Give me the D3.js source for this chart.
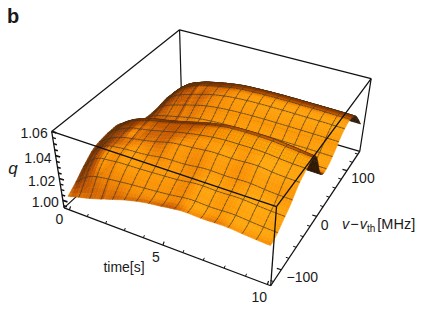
<!DOCTYPE html>
<html><head><meta charset="utf-8">
<script src="https://cdn.jsdelivr.net/npm/d3@7"></script>
<style>html,body{margin:0;padding:0;background:#fff}svg{display:block}text{font-family:"Liberation Sans",Arial,sans-serif;fill:#1a1a1a}</style>
</head><body><div id="chart"></div>
<script>
// ---- data: q - 1 in units of 1e-3, one row per time, one entry per v node ----
const tGrid=[0,0.5,1,1.5,2,3,4,5,6,7,8,9,10];
const vGrid=d3.range(33).map(j=>-126+8.5*j);
const q_t00=[5.3,8,11,14.5,18,21,24,26,27,27.5,28,28,28,27,24,20,17,15,14,13,12,11.5,11.5,11.5,12,12.5,13,12.5,12,10.5,9,7,5];
const q_t05=[7.6,12,17.5,22.5,26.5,29.5,31,31.5,32,33,33.5,33.5,33.5,32,28,23.5,20,17.5,16,15.5,16,17,18.5,19.5,20.3,20.8,21,20.4,19.5,17.8,15.5,12.8,10];
const q_t10=[9.7,15.5,22,27.5,31,33.5,35,35.5,36,37,37.5,38,38,36.5,31,26,22,19,17.5,17.5,18.5,20.3,22.5,24.3,25.8,27,27.5,26.8,25.5,23.3,20,16.3,13];
const q_t15=[12.2,18,23.8,28.5,32,34.5,36.5,37.5,38.5,40,40.5,41,41,39.5,34,28,23,20,19,19.3,20.5,22.5,25,27.2,29,30.5,31.2,30.5,29,26.5,22.8,18.5,14.6];
const q_t20=[15.1,20,25,29.5,33,35.5,37.5,39,40,41,42,43,43.5,42,36,29.5,24,21,20.5,21,22.5,24.8,27.5,30,31.7,33.5,34.5,33.5,32,29,25,20.3,16];
const q_t30=[20.5,23.5,26.8,30.5,33.5,36,38.5,41,43,44.5,45.5,46.5,47,45,39,31,25,22.5,22.6,23.6,25.8,28.4,31.6,34.3,36,37.3,38,37,35.4,32.2,27.6,22.4,17.5];
const q_t40=[24.8,26,28.2,31.5,34.3,37,40.8,44.3,47,48.5,49.5,50.5,51,49,42,32.6,25.8,23.2,23.6,25,27.5,30.4,33.8,36.8,38.7,40.2,40.8,39.8,38,34.5,29.5,24,18.7];
const q_t50=[27.3,27.8,29.8,32.8,35.3,37.8,41.3,45.3,48.5,51,52.5,54.5,55,53,45,33.3,26.3,23.7,24.2,25.8,28.3,31.3,34.8,37.9,39.9,41.4,41.9,40.9,38.9,35.4,30.3,24.7,19.2];
const q_t60=[29.5,30,31.9,34.9,37.3,39.7,43.1,46.9,50.1,52,54.5,56.5,57.5,55.5,46.5,33.7,26.5,24,24.5,26,28.6,31.6,35.2,38.3,40.3,41.8,42.3,41.3,39.3,35.7,30.6,25,19.4];
const q_t70=[29.1,29.5,31.4,34.4,36.9,39.3,42.7,46.6,49.8,52,54.8,57,58,56,47,33.7,26.5,24,24.5,26,28.6,31.6,35.2,38.3,40.3,41.8,42.3,41.3,39.3,35.7,30.6,25,19.4];
const q_t80=[29.5,30,31.9,34.9,37.3,39.8,43.3,47.3,50.6,52.4,54.6,56.8,57.6,55.6,46.5,33.5,26.4,23.9,24.4,25.9,28.4,31.5,35,38.1,40.1,41.6,42.1,41.1,39.1,35.5,30.5,24.9,19.3];
const q_t90=[28.1,28.6,30.5,33.5,35.9,38.3,41.7,45.7,48.8,50.6,53,55.3,56,54,45.5,33.3,26.3,23.7,24.2,25.8,28.3,31.3,34.8,37.9,39.9,41.4,41.9,40.9,38.9,35.4,30.3,24.7,19.2];
const q_t100=[27,27.5,29.5,32.5,35,37.5,41,45,48,50,52,54,54.5,52,44,33,26,23.5,24,25.5,28,31,34.5,37.5,39.5,41,41.5,40.5,38.5,35,30,24.5,19];
const qRows=[q_t00,q_t05,q_t10,q_t15,q_t20,q_t30,q_t40,q_t50,q_t60,q_t70,q_t80,q_t90,q_t100];
const tMajor=[0,5,10], tMinor=[1,2,3,4,6,7,8,9];
const vMajor=[-100,0,100], vMinor=[-120,-80,-60,-40,-20,20,40,60,80,120,140];
const qMajor=[1.00,1.02,1.04,1.06], qMinor=[0.995,1.005,1.01,1.015,1.025,1.03,1.035,1.045,1.05,1.055];

const W=426,H=316;
const svg=d3.select('#chart').append('svg').attr('width',W).attr('height',H);

// ---- box in normalised coordinates, and the camera fitted to its corners ----
const tX=d3.scaleLinear().domain([-0.3,10.15]).range([0,1]);
const vY=d3.scaleLinear().domain([-127,147]).range([0,1]);
const qZ=d3.scaleLinear().domain([0.993,1.06]).range([0,1]);
const corners=[[0,0,0,63,208],[1,0,0,271,285],[1,1,0,360,150],[0,1,0,182,101],
               [0,0,1,53,130],[1,0,1,276,209],[1,1,1,371,79],[0,1,1,179,29]];
function fitCamera(pts){
  const A=[],b=[];
  pts.forEach(([x,y,z,X,Y])=>{
    A.push([x,y,z,1,0,0,0,0,-X*x,-X*y,-X*z]);b.push(X);
    A.push([0,0,0,0,x,y,z,1,-Y*x,-Y*y,-Y*z]);b.push(Y);
  });
  const n=11,M=d3.range(n).map(i=>d3.range(n+1).map(j=>
    j<n?d3.sum(A,r=>r[i]*r[j]):d3.sum(A,(r,k)=>r[i]*b[k])));
  for(let c=0;c<n;c++){
    let p=c;for(let r=c+1;r<n;r++)if(Math.abs(M[r][c])>Math.abs(M[p][c]))p=r;
    [M[c],M[p]]=[M[p],M[c]];
    for(let r=0;r<n;r++)if(r!==c){const f=M[r][c]/M[c][c];for(let k=c;k<=n;k++)M[r][k]-=f*M[c][k];}
  }
  return M.map((r,i)=>r[n]/r[i]);
}
const C=fitCamera(corners);
function proj(x,y,z){
  const w=C[8]*x+C[9]*y+C[10]*z+1;
  return [(C[0]*x+C[1]*y+C[2]*z+C[3])/w,(C[4]*x+C[5]*y+C[6]*z+C[7])/w];
}
const P=(t,v,q)=>proj(tX(t),vY(v),qZ(q));
const line=d3.line();

// ---- surface lookup ----
const tIdx=d3.scaleLinear().domain(tGrid).range(d3.range(tGrid.length)).clamp(true);
const vIdx=d3.scaleLinear().domain([vGrid[0],vGrid[32]]).range([0,32]).clamp(true);
const cr=(a,b,c,d,x)=>b+0.5*x*(c-a+x*(2*a-5*b+4*c-d+x*(3*(b-c)+d-a)));
function qAt(t,v){
  const ti=tIdx(t),vj=vIdx(v);
  const i=Math.min(Math.floor(ti),tGrid.length-2),j=Math.min(Math.floor(vj),31),fi=ti-i,fj=vj-j;
  const rowVal=r=>{const R=qRows[Math.max(0,Math.min(tGrid.length-1,r))];
    return cr(R[Math.max(0,j-1)],R[j],R[j+1],R[Math.min(32,j+2)],fj);};
  return 1+cr(rowVal(i-1),rowVal(i),rowVal(i+1),rowVal(i+2),fi)/1000;
}

// ---- shading ----
const boxZ=0.75;
const L=(()=>{const l=[0.42,-0.52,0.74],m=Math.hypot(...l);return l.map(d=>d/m);})();
const ramp=d3.scaleLinear().domain([0.2,0.5,0.64,0.74,0.84,0.95])
  .range(['#6a3000','#a84600','#cc5f00','#ea7d02','#fb9404','#ffa60c']).clamp(true);
const under=d3.scaleLinear().domain([0,1]).range(['#2e1a08','#70401a']).clamp(true);
function shade(t,v){
  const dt=0.05,dv=1.5;
  const dzdx=(qZ(qAt(t+dt,v))-qZ(qAt(t-dt,v)))*boxZ/(tX(t+dt)-tX(t-dt));
  const dzdy=(qZ(qAt(t,v+dv))-qZ(qAt(t,v-dv)))*boxZ/(vY(v+dv)-vY(v-dv));
  const m=Math.hypot(dzdx,dzdy,1);
  return Math.max(0,(-dzdx*L[0]-dzdy*L[1]+L[2])/m);
}

// ---- back of the box ----
const edge=(g,a,b,w)=>g.append('path').attr('d',line([a,b])).attr('stroke','#111').attr('stroke-width',w).attr('fill','none');
const BX=[-0.3,10.15],BV=[-127,147],BQ=[0.993,1.06];
const c3=(a,b,c)=>P(BX[a],BV[b],BQ[c]);
const back=svg.append('g');
[[[0,0,1],[0,1,1]],[[0,1,1],[1,1,1]],[[0,1,1],[0,1,0]],[[0,1,0],[1,1,0]],[[0,0,0],[0,1,0]],[[1,1,1],[1,1,0]]]
  .forEach(([a,b])=>edge(back,c3(...a),c3(...b),1.2));

// ---- surface: painted far to near, mesh drawn with it ----
const surf=svg.append('g');
const nSub=4,nMesh=16,tN=nMesh*nSub,vN=nMesh*nSub;
const tS=d3.scaleLinear().domain([0,tN]).range([0,10]);
const vS=d3.scaleLinear().domain([0,vN]).range([vGrid[0],vGrid[32]]);
const S=(i,j)=>{const t=tS(i),v=vS(j);return P(t,v,qAt(t,v));};
const mesh=(a,b)=>surf.append('path').attr('d',line([a,b])).attr('fill','none')
  .attr('stroke','#3c3226').attr('stroke-width',0.8).attr('stroke-opacity',0.9);
for(let j=vN-1;j>=0;j--){
  for(let i=0;i<tN;i++){
    const a=S(i,j),b=S(i+1,j),c=S(i+1,j+1),d=S(i,j+1);
    const area=d3.polygonArea([a,b,c,d]);
    const s=shade(tS(i+.5),vS(j+.5));
    const col=area<0?under(s):ramp(s);
    surf.append('path').attr('d','M'+[a,b,c,d].join('L')+'Z').attr('fill',col).attr('stroke',col).attr('stroke-width',0.5);
    if((j+1)%nSub===0&&j+1<vN) mesh(d,c);
    if(i%nSub===0&&i>0) mesh(a,d);
  }
}

// ---- front of the box and axes ----
const front=svg.append('g');
[[[0,0,1],[1,0,1]],[[1,0,1],[1,1,1]],[[1,0,1],[1,0,0]],[[0,0,0],[1,0,0]],[[1,0,0],[1,1,0]],[[0,0,0],[0,0,1]]]
  .forEach(([a,b])=>edge(front,c3(...a),c3(...b),1.3));
const tick=(p,dx,dy,w)=>front.append('path').attr('d',line([p,[p[0]+dx,p[1]+dy]])).attr('stroke','#111').attr('stroke-width',w).attr('fill','none');
tMinor.forEach(t=>tick(P(t,BV[0],BQ[0]),1,-2.5,1));
tMajor.forEach(t=>tick(P(t,BV[0],BQ[0]),1.2,-3.5,1.2));
vMinor.forEach(v=>tick(P(BX[1],v,BQ[0]),-3,-1,1));
vMajor.forEach(v=>tick(P(BX[1],v,BQ[0]),-4.5,-1.3,1.2));
qMinor.forEach(q=>tick(P(BX[0],BV[0],q),3.2,1,1.5));
qMajor.forEach(q=>tick(P(BX[0],BV[0],q),4.6,1.4,1.7));

// ---- text ----
const label=(x,y,s,o={})=>svg.append('text').attr('x',x).attr('y',y).attr('text-anchor',o.anchor||'middle')
  .attr('font-size',o.size||14).attr('font-weight',o.weight||null).attr('font-style',o.style||null).text(s);
const off=(p,dx,dy)=>[p[0]+dx,p[1]+dy];
label(13,23,'b',{size:20,weight:'bold'});
label(13,174,'q',{size:17,style:'italic'});
qMajor.forEach(q=>{const p=off(P(BX[0],BV[0],q),-4,7);label(p[0],p[1],q.toFixed(2),{anchor:'end'});});
tMajor.forEach(t=>{const p=P(t,BV[0],BQ[0]);const d=t===0?[-10,14]:t===5?[-7,17]:[-8,18];label(p[0]+d[0],p[1]+d[1],String(t));});
label(124,272,'time[s]');
vMajor.forEach(v=>{const p=P(BX[1],v,BQ[0]);const d=v===-100?[21,12]:v===0?[8,14]:[16,12];label(p[0]+d[0],p[1]+d[1],(v<0?'\u2212':'')+Math.abs(v));});
const vl=svg.append('text').attr('x',342).attr('y',229).attr('font-size',14.5);
vl.append('tspan').attr('font-style','italic').text('v');
vl.append('tspan').attr('dx',1).text('\u2212');
vl.append('tspan').attr('dx',1).attr('font-style','italic').text('v');
vl.append('tspan').attr('font-size',10).attr('dy',3).text('th');
vl.append('tspan').attr('dy',-3).attr('dx',2).text('[MHz]');
</script></body></html>
